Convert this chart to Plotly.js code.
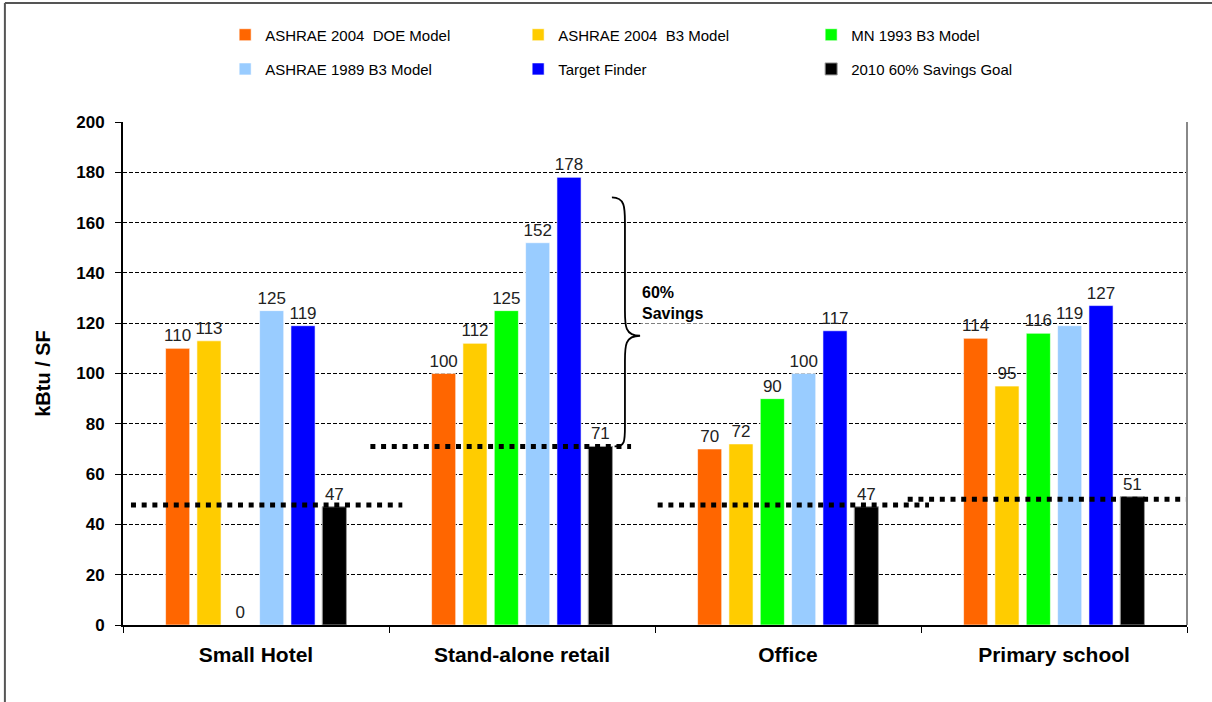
<!DOCTYPE html>
<html>
<head>
<meta charset="utf-8">
<script src="https://cdn.plot.ly/plotly-3.0.1.min.js"></script>
<style>
  html, body { margin: 0; padding: 0; background: #fff; }
  #chart { width: 1212px; height: 702px; }
</style>
</head>
<body>
<div id="chart"></div>
<script>
// ---- data ----
const categories = ["Small Hotel", "Stand-alone retail", "Office", "Primary school"];
const seriesNames = ["ASHRAE 2004  DOE Model", "ASHRAE 2004  B3 Model", "MN 1993 B3 Model",
                     "ASHRAE 1989 B3 Model", "Target Finder", "2010 60% Savings Goal"];
const ashrae2004DOE = [110, 100, 70, 114];
const ashrae2004B3  = [113, 112, 72, 95];
const mn1993B3      = [0, 125, 90, 116];
const ashrae1989B3  = [125, 152, 100, 119];
const targetFinder  = [119, 178, 117, 127];
const savingsGoal   = [47, 71, 47, 51];
const yTicks = [0, 20, 40, 60, 80, 100, 120, 140, 160, 180, 200];

// ---- styles ----
const colors = ["#FF6600", "#FFCC00", "#00FF00", "#99CCFF", "#0000FF", "#000000"];
const allSeries = [ashrae2004DOE, ashrae2004B3, mn1993B3, ashrae1989B3, targetFinder, savingsGoal];
const FONT = "Liberation Sans, Arial, sans-serif";

const traces = allSeries.map((vals, i) => ({
  type: "bar",
  name: seriesNames[i],
  legend: i < 3 ? "legend" : "legend2",
  x: categories,
  y: vals,
  text: vals.map(v => String(v)),
  textposition: "outside",
  constraintext: "none",
  cliponaxis: false,
  textfont: { family: FONT, size: 17, color: "#222" },
  marker: { color: colors[i], line: { color: i === 5 ? "#999" : "rgba(255,255,255,0.6)", width: 1 } },
  hoverinfo: "x+y"
}));

// dotted goal lines: horizontal extents relative to each category centre (styling)
const goalSpan = [[-0.47, 0.55], [-0.57, 0.41], [-0.49, 0.53], [-0.55, 0.50]];
const goalLineY = [47.7, 71, 47.7, 50];
const shapes = savingsGoal.map((g, i) => ({
  type: "line", xref: "x", yref: "y",
  x0: i + goalSpan[i][0], x1: i + goalSpan[i][1], y0: goalLineY[i], y1: goalLineY[i],
  line: { color: "#000", width: 5, dash: "5px,5.7px" }, layer: "above"
}));

// brace between Target Finder top and goal for retail
const bx0 = 1.338, bx1 = 1.387, bx2 = 1.444;
const bTop = 170, bMid = 115, bBot = 71;
shapes.push({
  type: "path", xref: "x", yref: "y", layer: "above",
  path: `M ${bx0},${bTop} C ${bx1},${bTop} ${bx1},${bTop-4} ${bx1},${bTop-10} ` +
        `L ${bx1},${bMid+10} C ${bx1},${bMid+4} ${bx1},${bMid} ${bx2},${bMid} ` +
        `C ${bx1},${bMid} ${bx1},${bMid-4} ${bx1},${bMid-10} ` +
        `L ${bx1},${bBot+8} C ${bx1},${bBot+2} ${bx1},${bBot} ${bx0+0.01},${bBot}`,
  line: { color: "#000", width: 1.8 }
});

// plot right border (grey)
shapes.push({ type: "line", xref: "paper", yref: "paper", x0: 1, x1: 1, y0: 0, y1: 1,
  line: { color: "#888", width: 2 } });
// outer chart frame (top and left)
shapes.push({ type: "line", xref: "paper", yref: "paper", x0: -0.111, x1: 1.1, y0: 1.2366, y1: 1.2366,
  line: { color: "#555", width: 2 } });
shapes.push({ type: "line", xref: "paper", yref: "paper", x0: -0.111, x1: -0.111, y0: -0.2, y1: 1.2366,
  line: { color: "#555", width: 2 } });

const legendBase = {
  orientation: "h", x: 0.096, xanchor: "left", yanchor: "middle",
  entrywidth: 248, entrywidthmode: "pixels",
  font: { family: FONT, size: 15, color: "#000" },
  itemwidth: 30, traceorder: "normal", bgcolor: "rgba(0,0,0,0)"
};

const layout = {
  width: 1212, height: 702,
  margin: { l: 123, r: 25, t: 122, b: 77 },
  paper_bgcolor: "#fff", plot_bgcolor: "#fff",
  font: { family: FONT, color: "#000" },
  barmode: "group",
  bargap: 0.293,
  bargroupgap: 0.23,
  showlegend: true,
  legend: Object.assign({}, legendBase, { y: 1.173 }),
  legend2: Object.assign({}, legendBase, { y: 1.105 }),
  xaxis: {
    type: "category",
    tickson: "boundaries",
    ticks: "outside", ticklen: 6, tickcolor: "#000", tickwidth: 1,
    showline: true, linecolor: "#000", linewidth: 2,
    tickfont: { family: FONT, size: 21, color: "#000", weight: "bold" },
    ticklabelstandoff: 10,
    showgrid: false, zeroline: false,
    range: [-0.5, 3.5]
  },
  yaxis: {
    range: [0, 200],
    tickvals: yTicks,
    ticktext: yTicks.map(String),
    ticks: "outside", ticklen: 6, tickcolor: "#000",
    showline: true, linecolor: "#000", linewidth: 2,
    tickfont: { family: FONT, size: 17, color: "#000", weight: "bold" },
    ticklabelstandoff: 7,
    showgrid: true, gridcolor: "#000", gridwidth: 1, griddash: "4px,2px",
    zeroline: false,
    title: { text: "kBtu / SF", font: { family: FONT, size: 20, color: "#000", weight: "bold" }, standoff: 20 }
  },
  shapes: shapes,
  annotations: [{
    xref: "x", yref: "y", x: 1.444, y: 128, xanchor: "left", yanchor: "middle",
    text: "<b>60%<br>Savings </b>", showarrow: false, align: "left",
    font: { family: FONT, size: 16, color: "#000" }, bgcolor: "#fff"
  }]
};

Plotly.newPlot("chart", traces, layout, { displayModeBar: false, staticPlot: true });
</script>
</body>
</html>
